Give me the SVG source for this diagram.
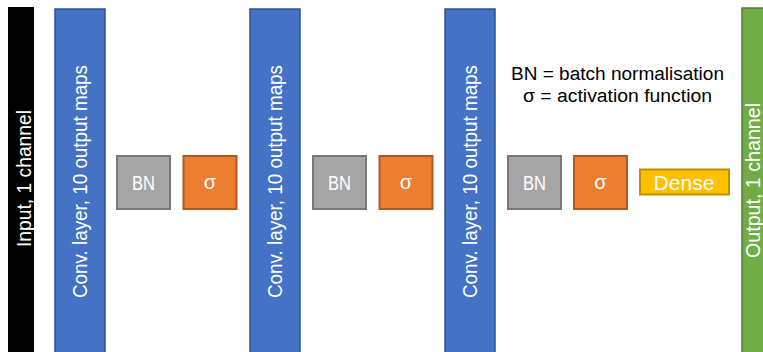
<svg xmlns="http://www.w3.org/2000/svg" width="763" height="352" viewBox="0 0 763 352">
<style>
text{font-family:"Liberation Sans",Arial,sans-serif;}
.conv{fill:#4472C4;stroke:#2F528F;stroke-width:1.5;}
.bn{fill:#A5A5A5;stroke:#787878;stroke-width:2;}
.sig{fill:#ED7D31;stroke:#AE5A21;stroke-width:2;}
.vt{font-size:20px;text-anchor:middle;fill:#FFFFFF;}
.bt{font-size:20px;text-anchor:middle;fill:#FFFFFF;}
.lg{font-size:18px;text-anchor:middle;fill:#000000;}
</style>
<rect width="763" height="352" fill="#FFFFFF"/>
<g id="input">
<rect x="8" y="7" width="26" height="350" fill="#000000"/>
<text class="vt" transform="translate(31,178.5) rotate(-90)" textLength="137" lengthAdjust="spacingAndGlyphs">Input, 1 channel</text>
</g>
<g id="conv1">
<rect class="conv" x="55" y="9" width="50" height="350"/>
<text class="vt" transform="translate(87,181.5) rotate(-90)" textLength="233" lengthAdjust="spacingAndGlyphs">Conv. layer, 10 output maps</text>
</g>
<g id="bn1">
<rect class="bn" x="117" y="156" width="53" height="53"/>
<text class="bt" x="143.5" y="189.5" textLength="23" lengthAdjust="spacingAndGlyphs">BN</text>
</g>
<g id="sigma1">
<rect class="sig" x="183.5" y="156" width="53" height="53"/>
<text class="bt" x="210" y="189">σ</text>
</g>
<g id="conv2">
<rect class="conv" x="250" y="9" width="50" height="350"/>
<text class="vt" transform="translate(282,181.5) rotate(-90)" textLength="233" lengthAdjust="spacingAndGlyphs">Conv. layer, 10 output maps</text>
</g>
<g id="bn2">
<rect class="bn" x="313" y="156" width="53" height="53"/>
<text class="bt" x="339.5" y="189.5" textLength="23" lengthAdjust="spacingAndGlyphs">BN</text>
</g>
<g id="sigma2">
<rect class="sig" x="379.5" y="156" width="53" height="53"/>
<text class="bt" x="406" y="189">σ</text>
</g>
<g id="conv3">
<rect class="conv" x="445" y="9" width="50" height="350"/>
<text class="vt" transform="translate(477,181.5) rotate(-90)" textLength="233" lengthAdjust="spacingAndGlyphs">Conv. layer, 10 output maps</text>
</g>
<g id="bn3">
<rect class="bn" x="508" y="156" width="53" height="53"/>
<text class="bt" x="534.5" y="189.5" textLength="23" lengthAdjust="spacingAndGlyphs">BN</text>
</g>
<g id="sigma3">
<rect class="sig" x="574" y="156" width="53" height="53"/>
<text class="bt" x="600.5" y="189">σ</text>
</g>
<g id="dense">
<rect x="640" y="169.5" width="89" height="25" fill="#FFC000" stroke="#BF9000" stroke-width="2"/>
<text class="bt" x="684" y="189.5" textLength="61" lengthAdjust="spacingAndGlyphs">Dense</text>
</g>
<g id="output">
<rect x="742" y="8" width="30" height="350" fill="#70AD47" stroke="#507E32" stroke-width="1.5"/>
<text class="vt" transform="translate(760,180.5) rotate(-90)" textLength="155" lengthAdjust="spacingAndGlyphs">Output, 1 channel</text>
</g>
<g id="legend">
<text class="lg" x="617.5" y="80" textLength="213" lengthAdjust="spacingAndGlyphs">BN = batch normalisation</text>
<text class="lg" x="617.5" y="102" textLength="189" lengthAdjust="spacingAndGlyphs">σ = activation function</text>
</g>
<g id="connectors"></g>
</svg>
